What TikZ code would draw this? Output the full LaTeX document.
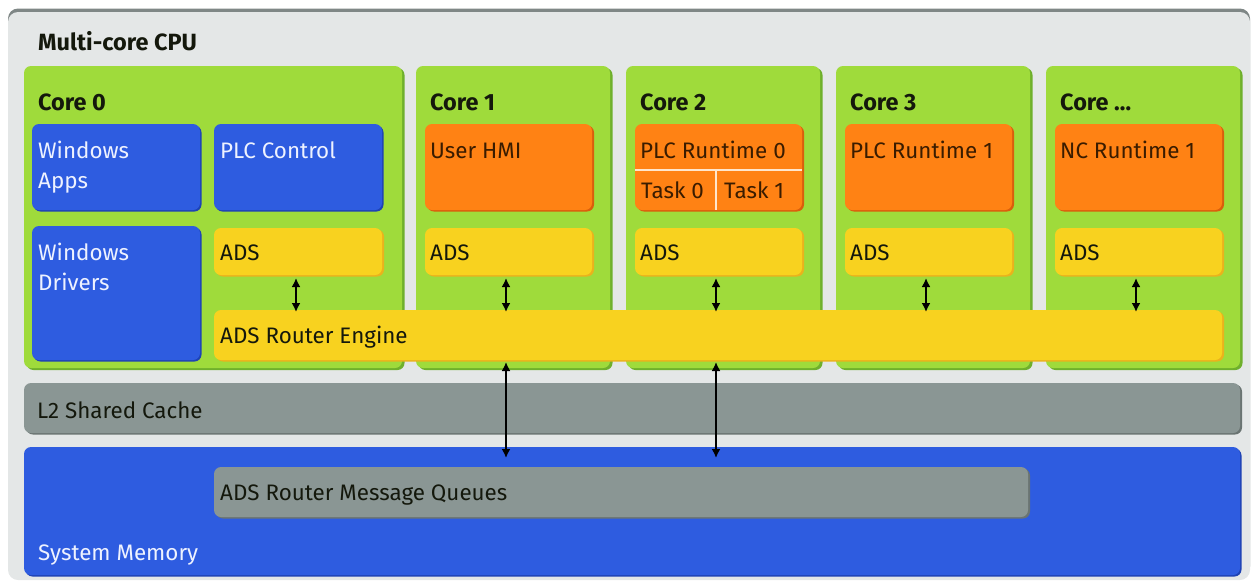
\documentclass[tikz,border=0pt]{standalone}
\usepackage{fontspec}
\setmainfont{Fira Sans}
\usetikzlibrary{arrows.meta,fit,shadows}
\definecolor{panelc}{HTML}{E4E7E7}
\definecolor{paneld}{HTML}{7F8786}
\definecolor{greenc}{HTML}{9FDB3B}
\definecolor{greend}{HTML}{6FB02C}
\definecolor{bluec}{HTML}{2E5CE0}
\definecolor{blued}{HTML}{1E42B4}
\definecolor{orangec}{HTML}{FF8214}
\definecolor{oranged}{HTML}{DA5E0C}
\definecolor{yellowc}{HTML}{F8D21F}
\definecolor{yellowd}{HTML}{EBB21C}
\definecolor{grayc}{HTML}{8A9694}
\definecolor{grayd}{HTML}{6A7472}
\definecolor{darktxt}{HTML}{14180C}
\definecolor{browntxt}{HTML}{3A1C00}
\definecolor{bluetxt}{HTML}{EEF2FF}
\definecolor{divc}{HTML}{FFE6CC}
\begin{document}
\begin{tikzpicture}[x=1pt,y=-1pt,
  box/.style={inner sep=0pt, outer sep=0pt, rounded corners=7pt},
  panelbox/.style={box, rounded corners=10pt, fill=panelc, drop shadow={shadow xshift=0pt, shadow yshift=3.5pt, opacity=1, fill=paneld}},
  corebox/.style={box, fill=greenc, drop shadow={shadow xshift=2.5pt, shadow yshift=-2pt, opacity=1, fill=greend}},
  bluebox/.style={box, fill=bluec, drop shadow={shadow xshift=1.5pt, shadow yshift=-1.5pt, opacity=1, fill=blued}},
  orangebox/.style={box, fill=orangec, drop shadow={shadow xshift=2pt, shadow yshift=-1.5pt, opacity=1, fill=oranged}},
  yellowbox/.style={box, fill=yellowc, drop shadow={shadow xshift=2pt, shadow yshift=-1.5pt, opacity=1, fill=yellowd}},
  graybox/.style={box, fill=grayc, drop shadow={shadow xshift=2pt, shadow yshift=-1.5pt, opacity=1, fill=grayd}},
  txt/.style={anchor=base west, inner sep=0pt, font=\fontsize{22.4}{30}\selectfont},
  head/.style={txt, font=\fontsize{23.5}{30}\selectfont\bfseries, text=darktxt},
  wtxt/.style={txt, text=bluetxt},
  btxt/.style={txt, text=browntxt},
  ytxt/.style={txt, text=darktxt},
  divider/.style={draw=divc, line width=2pt},
  arr/.style={{Latex[length=9pt,width=9pt]}-{Latex[length=9pt,width=9pt]}, line width=2.8pt, draw=black}
]
\useasboundingbox (0,0) rectangle (1255,582);

% outer panel
\node[panelbox, fit={(8,12) (1250,580)}] (cpu) {};
\node[head] (t-cpu) at (38,50) {Multi-core CPU};

% cores
\node[corebox, fit={(24,66) (402,368)}] (core0) {};
\node[corebox, fit={(416,66) (610,368)}] (core1) {};
\node[corebox, fit={(626,66) (820,368)}] (core2) {};
\node[corebox, fit={(836,66) (1030,368)}] (core3) {};
\node[corebox, fit={(1046,66) (1240,368)}] (core4) {};
\node[head] (t-core0) at (38,110) {Core 0};
\node[head] (t-core1) at (430,110) {Core 1};
\node[head] (t-core2) at (640,110) {Core 2};
\node[head] (t-core3) at (850,110) {Core 3};
\node[head] (t-core4) at (1060,110) {Core …};

% core 0 content
\node[bluebox, fit={(32,124) (200,210)}] (winapps) {};
\node[bluebox, fit={(214,124) (382,210)}] (plcctrl) {};
\node[bluebox, fit={(32,226) (200,360)}] (windrv) {};
\node[wtxt] (t-winapps) at (38,158) {\vtop{\baselineskip=30pt\hbox{Windows}\hbox{Apps}}};
\node[wtxt] (t-plcctrl) at (220,158) {PLC Control};
\node[wtxt] (t-windrv) at (38,260) {\vtop{\baselineskip=30pt\hbox{Windows}\hbox{Drivers}}};

% orange application boxes
\node[orangebox, fit={(425,124) (592,210)}] (hmi) {};
\node[orangebox, fit={(635,124) (802,210)}] (plc0) {};
\node[orangebox, fit={(845,124) (1012,210)}] (plc1) {};
\node[orangebox, fit={(1055,124) (1222,210)}] (nc1) {};
\node[btxt] (t-hmi) at (430,158) {User HMI};
\node[btxt] (t-plc0) at (640,158) {PLC Runtime 0};
\node[btxt] (t-plc1) at (850,158) {PLC Runtime 1};
\node[btxt] (t-nc1) at (1060,158) {NC Runtime 1};
\coordinate (d-l) at (635,170);
\coordinate (d-r) at (802,170);
\coordinate (d-m) at (716,170);
\coordinate (d-b) at (716,210);
\draw[divider] (d-l) -- (d-r);
\draw[divider] (d-m) -- (d-b);
\node[btxt] (t-task0) at (641,198) {Task 0};
\node[btxt] (t-task1) at (724,198) {Task 1};

% ADS boxes
\node[yellowbox, fit={(214,228) (382,275)}] (ads0) {};
\node[yellowbox, fit={(425,228) (592,275)}] (ads1) {};
\node[yellowbox, fit={(635,228) (802,275)}] (ads2) {};
\node[yellowbox, fit={(845,228) (1012,275)}] (ads3) {};
\node[yellowbox, fit={(1055,228) (1222,275)}] (ads4) {};
\node[ytxt] (t-ads0) at (220,260) {ADS};
\node[ytxt] (t-ads1) at (430,260) {ADS};
\node[ytxt] (t-ads2) at (640,260) {ADS};
\node[ytxt] (t-ads3) at (850,260) {ADS};
\node[ytxt] (t-ads4) at (1060,260) {ADS};

% router engine
\node[yellowbox, fit={(214,310) (1222,360)}] (eng) {};
\node[ytxt] (t-eng) at (220,343) {ADS Router Engine};

% cache and memory
\node[graybox, fit={(24,383) (1240,433)}] (l2) {};
\node[ytxt] (t-l2) at (37,418) {L2 Shared Cache};
\node[bluebox, fit={(24,447) (1240,575)}] (mem) {};
\node[wtxt] (t-mem) at (38,560) {System Memory};
\node[graybox, fit={(214,467) (1028,517)}] (queues) {};
\node[ytxt] (t-queues) at (220,500) {ADS Router Message Queues};

% arrows
\foreach \i/\x in {0/296,1/506,2/716,3/926,4/1136}{
  \draw[arr, shorten <=3pt, shorten >=-2pt] (ads\i.south -| \x,0) -- (eng.north -| \x,0);
}
\draw[arr, shorten <=2pt, shorten >=9pt] (eng.south -| 506,0) -- (queues.north -| 506,0);
\draw[arr, shorten <=2pt, shorten >=9pt] (eng.south -| 716,0) -- (queues.north -| 716,0);
\end{tikzpicture}
\end{document}
